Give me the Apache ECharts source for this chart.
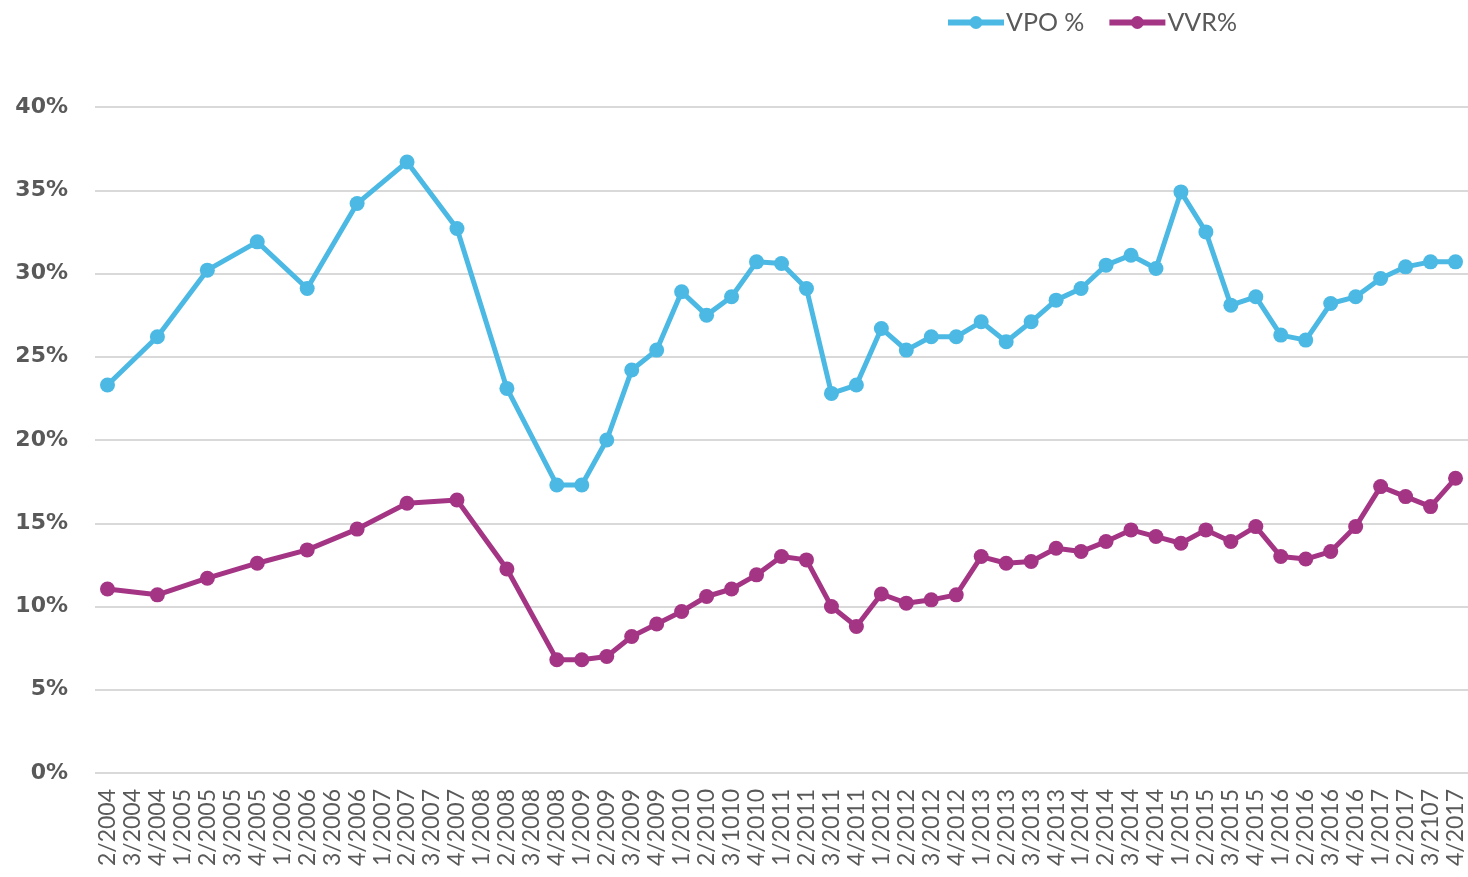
<!DOCTYPE html>
<html><head><meta charset="utf-8">
<script src="https://cdn.jsdelivr.net/npm/echarts@6/dist/echarts.min.js"></script>
<style>html,body{margin:0;padding:0;background:#fff}#c{width:1468px;height:877px}</style>
</head><body><div id="c"></div>
<script>
const categories = ["2/2004","3/2004","4/2004","1/2005","2/2005","3/2005","4/2005","1/2006","2/2006","3/2006","4/2006","1/2007","2/2007","3/2007","4/2007","1/2008","2/2008","3/2008","4/2008","1/2009","2/2009","3/2009","4/2009","1/2010","2/2010","3/1010","4/2010","1/2011","2/2011","3/2011","4/2011","1/2012","2/2012","3/2012","4/2012","1/2013","2/2013","3/2013","4/2013","1/2014","2/2014","3/2014","4/2014","1/2015","2/2015","3/2015","4/2015","1/2016","2/2016","3/2016","4/2016","1/2017","2/2017","3/2107","4/2017"];
const vpo = [23.3,null,26.2,null,30.2,null,31.9,null,29.1,null,34.2,null,36.7,null,32.7,null,23.1,null,17.3,17.3,20.0,24.2,25.4,28.9,27.5,28.6,30.7,30.6,29.1,22.8,23.3,26.7,25.4,26.2,26.2,27.1,25.9,27.1,28.4,29.1,30.5,31.1,30.3,34.9,32.5,28.1,28.6,26.3,26.0,28.2,28.6,29.7,30.4,30.7,30.7];
const vvr = [11.05,null,10.7,null,11.7,null,12.6,null,13.4,null,14.65,null,16.2,null,16.4,null,12.25,null,6.8,6.8,7.0,8.2,8.95,9.7,10.6,11.05,11.9,13.0,12.8,10.0,8.8,10.75,10.2,10.4,10.7,13.0,12.6,12.7,13.5,13.3,13.9,14.6,14.2,13.8,14.6,13.9,14.8,13.0,12.85,13.3,14.8,17.2,16.6,16.0,17.7];
const yTicks = [0,5,10,15,20,25,30,35,40];

const chart = echarts.init(document.getElementById('c'));
chart.setOption({
  animation:false,
  legend:{
    top:5, left:940,
    itemWidth:56, itemHeight:16, itemGap:22,
    lineStyle:{width:6},
    textStyle:{fontFamily:'Lato', fontSize:25, color:'#595959', padding:[0,0,0,-3]},
    data:['VPO %','VVR%']
  },
  grid:{left:95, right:-2, top:107, bottom:104, containLabel:false},
  xAxis:{
    type:'category', data:categories, boundaryGap:true,
    axisLine:{show:false}, axisTick:{show:false},
    axisLabel:{rotate:90, interval:0, fontFamily:'Lato', fontSize:23, color:'#595959', margin:16}
  },
  yAxis:{
    type:'value', min:yTicks[0], max:yTicks[yTicks.length-1], interval:5,
    axisLine:{show:false}, axisTick:{show:false},
    splitLine:{lineStyle:{color:'#d9d9d9', width:2}},
    axisLabel:{formatter:'{value}%', fontFamily:'DejaVu Sans', fontWeight:'bold', fontSize:22, color:'#595959', margin:27}
  },
  series:[
    {name:'VPO %', type:'line', data:vpo, connectNulls:true, symbol:'circle', symbolSize:15,
     lineStyle:{width:5, color:'#4BB9E3'}, itemStyle:{color:'#4BB9E3'}},
    {name:'VVR%', type:'line', data:vvr, connectNulls:true, symbol:'circle', symbolSize:15,
     lineStyle:{width:5, color:'#A43585'}, itemStyle:{color:'#A43585'}}
  ]
});
</script></body></html>
